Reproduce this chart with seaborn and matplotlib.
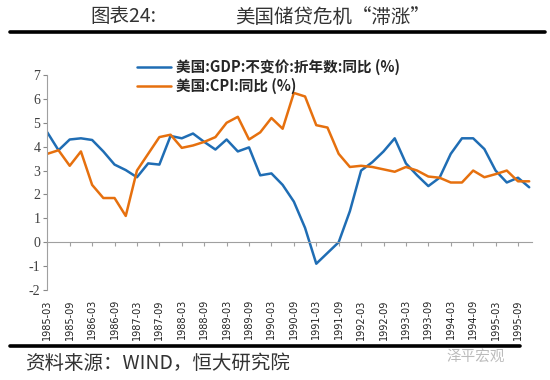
import matplotlib
matplotlib.use("Agg")
import matplotlib.pyplot as plt
import seaborn as sns
import pandas as pd
import numpy as np

# ---- data ----
quarters = [f"{y}-{m}" for y in range(1985, 1996) for m in ("03", "06", "09", "12")]
gdp = [4.6, 3.85, 4.3, 4.35, 4.28, 3.8, 3.25, 3.02, 2.72, 3.3, 3.25,
       4.45, 4.35, 4.55, 4.2, 3.88, 4.3, 3.8, 3.97, 2.8, 2.88, 2.4,
       1.7, 0.6, -0.9, -0.45, 0.0, 1.3, 3.0, 3.35, 3.8, 4.35, 3.3,
       2.8, 2.35, 2.7, 3.7, 4.35, 4.35, 3.9, 3.0, 2.5, 2.7, 2.3]
cpi = [3.7, 3.85, 3.2, 3.8, 2.4, 1.85, 1.85, 1.1, 3.0, 3.7, 4.4,
       4.5, 3.95, 4.05, 4.2, 4.4, 5.0, 5.25, 4.3, 4.6, 5.2, 4.75,
       6.25, 6.1, 4.9, 4.8, 3.7, 3.15, 3.2, 3.15, 3.05, 2.95, 3.15,
       3.0, 2.75, 2.7, 2.5, 2.5, 3.0, 2.72, 2.85, 3.0, 2.55, 2.55]
series_names = ["美国:GDP:不变价:折年数:同比 (%)", "美国:CPI:同比 (%)"]
tick_labels = quarters[::2]
y_ticks = list(range(-2, 8))

title_left = "图表24:"
title_right = "美国储贷危机“滞涨”"
source = "资料来源：WIND，恒大研究院"
watermark = "泽平宏观"

df = pd.DataFrame({
    "x": list(range(len(quarters))) * 2,
    "value": gdp + cpi,
    "series": [series_names[0]] * len(gdp) + [series_names[1]] * len(cpi),
})

sns.set_style("white")
CJK = ["Noto Sans CJK SC", "DejaVu Sans"]
plt.rcParams["font.family"] = ["Liberation Serif", "DejaVu Serif"]

fig = plt.figure(figsize=(5.5, 3.8), dpi=100)
ax = fig.add_axes([47.3 / 550, 1 - 290 / 380, (532 - 47.3) / 550, (290 - 75) / 380])

palette = {series_names[0]: "#1f6db4", series_names[1]: "#e6700e"}
sns.lineplot(data=df, x="x", y="value", hue="series", palette=palette,
             linewidth=1.8, ax=ax, legend=True)

ax.set_xlim(0, len(quarters) - 1 + 0.25)
ax.set_ylim(-2, 7)
ax.set_xlabel("")
ax.set_ylabel("")

# y axis
ax.set_yticks(y_ticks)
ax.set_yticklabels([str(v) for v in y_ticks])
ax.tick_params(axis="y", direction="out", length=3, width=0.8, color="#888888",
               left=True, pad=2, labelsize=10, labelcolor="#404040")

# x axis at zero
ax.spines["bottom"].set_position(("data", 0))
ax.spines["bottom"].set_color("#a0a0a0")
ax.spines["left"].set_color("#a0a0a0")
ax.spines["top"].set_visible(False)
ax.spines["right"].set_visible(False)
ax.set_xticks(list(range(0, len(quarters), 2)))
ax.set_xticklabels(tick_labels, rotation=90)
ax.tick_params(axis="x", direction="out", length=3, width=0.8, color="#a0a0a0",
               bottom=True, pad=38, labelsize=7, labelcolor="#222222",
               labelfontfamily="DejaVu Sans")

# legend
leg = ax.get_legend()
handles, labels = ax.get_legend_handles_labels()
leg.remove()
fig.legend(handles, labels, loc="upper left", bbox_to_anchor=(124 / 550, 1 - 46 / 380),
           frameon=False, prop={"family": CJK, "size": 10.5, "weight": "bold"},
           handlelength=2.3, labelspacing=0.2, handletextpad=0.4)

# title and rules
fig.text(90 / 550, 1 - 17 / 380, title_left, ha="left", va="center", fontsize=14,
         color="#333333", family=CJK)
fig.text(430 / 550, 1 - 17 / 380, title_right, ha="right", va="center", fontsize=14,
         color="#333333", family=CJK)
fig.add_artist(plt.Line2D([10 / 550, 545 / 550], [1 - 32 / 380, 1 - 32 / 380],
                          color="black", linewidth=2.6))
fig.add_artist(plt.Line2D([10 / 550, 520 / 550], [1 - 346 / 380, 1 - 346 / 380],
                          color="black", linewidth=2.6))
fig.text(25 / 550, 1 - 363 / 380, source, ha="left", va="center", fontsize=14,
         color="#333333", style="italic", family=CJK)
fig.text(505 / 550, 1 - 357 / 380, watermark, ha="right", va="center", fontsize=10.5,
         color="#bbbbbb", family=CJK)

fig.savefig("out.png", dpi=100)
